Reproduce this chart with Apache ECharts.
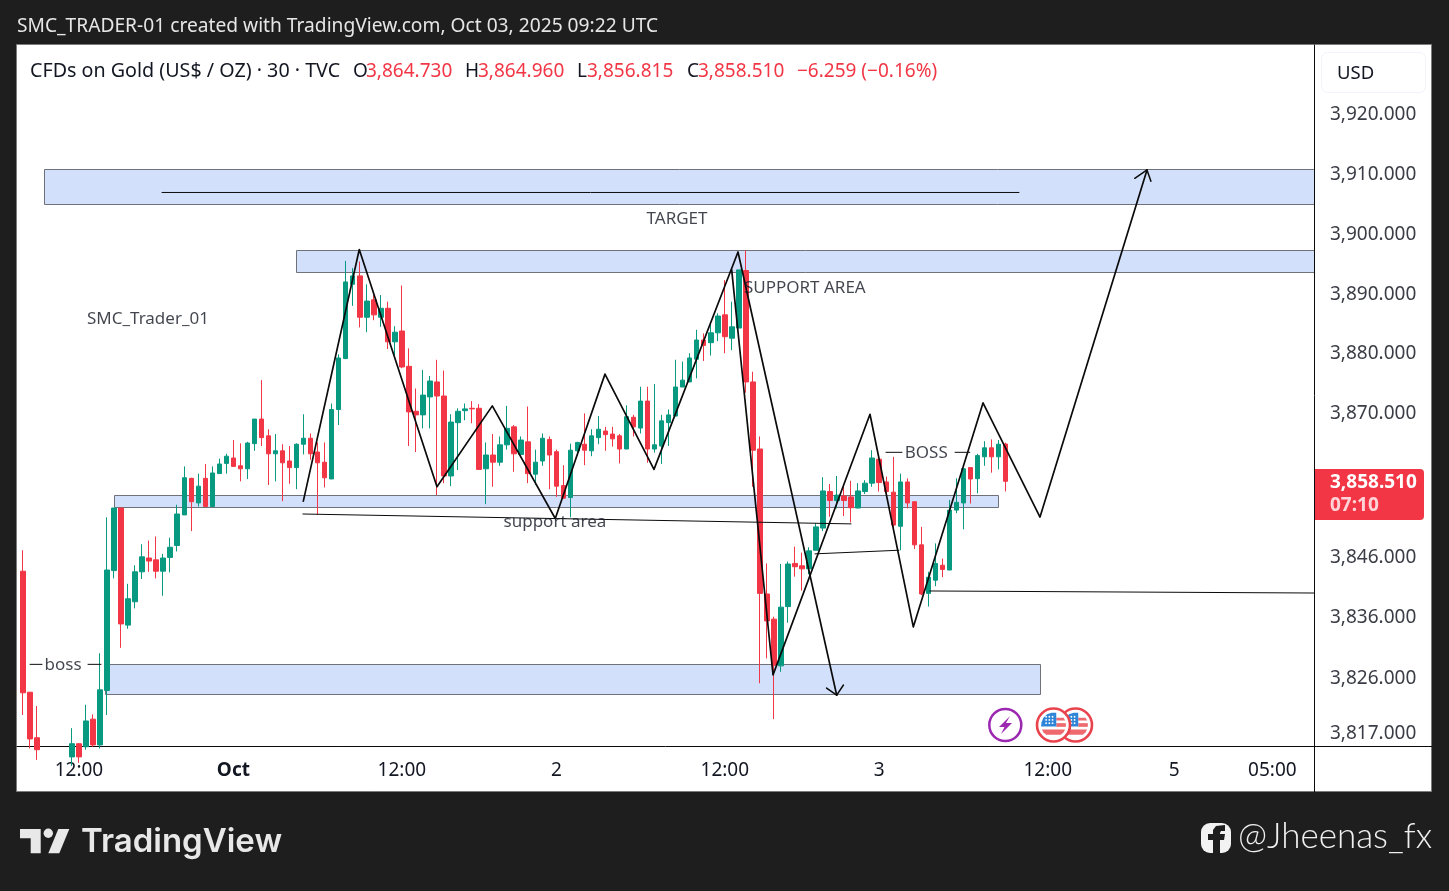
<!DOCTYPE html>
<html><head><meta charset="utf-8">
<style>html,body{margin:0;padding:0;background:#1e1e1e;overflow:hidden}#c{width:1449px;height:891px}</style>
<script src="https://cdn.jsdelivr.net/npm/echarts@6/dist/echarts.min.js"></script>
</head><body><div id="c"></div>
<script>
// 30-minute candles, one per bar index (bars 3-6 sit below the visible price range)
const opens=[3843.5,3823.3,3815.7,3813.0,3811.5,3811.0,3812.0,3812.5,3814.7,3814.2,
3818.8,3814.5,3823.6,3843.6,3854.05,3834.5,3838.4,3843.4,3845.7,3845.4,
3843.5,3845.8,3847.8,3852.9,3859.0,3854.9,3859.0,3854.3,3859.8,3861.5,
3862.4,3861.1,3860.6,3864.8,3868.9,3866.1,3863.1,3863.6,3861.9,3860.8,
3864.7,3865.7,3863.4,3861.7,3858.9,3870.5,3879.0,3891.4,3892.8,3885.9,
3888.8,3885.9,3887.4,3881.8,3883.6,3877.7,3870.2,3869.6,3872.6,3875.1,
3872.75,3859.4,3868.3,3870.3,3870.7,3870.7,3860.6,3862.9,3861.7,3864.6,
3867.6,3863.0,3865.1,3859.7,3861.9,3865.5,3863.45,3857.8,3855.8,3863.6,
3864.7,3863.6,3865.8,3866.9,3866.4,3866.1,3863.9,3869.2,3867.4,3871.9,
3863.9,3864.4,3868.3,3869.4,3874.25,3875.1,3878.9,3882.1,3881.65,3883.3,
3886.3,3882.4,3884.1,3893.7,3875.1,3863.9,3839.7,3835.5,3827.7,3837.6,
3844.8,3844.4,3843.9,3847.0,3850.7,3856.8,3855.3,3856.05,3855.9,3854.05,
3856.8,3858.2,3862.2,3858.4,3856.7,3851.0,3858.4,3855.1,3847.9,3839.8,
3842.0,3844.5,3843.7,3853.7,3854.9,3860.8,3858.95,3862.6,3864.1,3862.6,
3864.73];
const closes=[3823.2,3815.5,3813.7,3811.5,3810.8,3812.0,3813.0,3814.7,3812.5,3818.5,
3814.5,3823.7,3843.7,3854.05,3834.7,3838.9,3843.4,3845.9,3845.2,3843.5,
3845.7,3847.5,3853.05,3859.1,3855.1,3857.7,3854.3,3859.9,3861.4,3862.7,
3861.0,3860.6,3864.9,3868.9,3865.8,3863.1,3863.6,3861.6,3860.8,3864.7,
3865.7,3863.1,3861.6,3859.1,3870.5,3879.1,3891.8,3892.8,3885.9,3888.6,
3886.3,3887.4,3881.8,3883.4,3877.6,3870.1,3869.6,3872.9,3875.25,3872.75,
3859.4,3868.4,3870.2,3870.6,3870.6,3860.5,3862.9,3861.7,3864.6,3867.35,
3863.1,3865.4,3859.8,3861.7,3865.7,3862.9,3857.7,3855.7,3863.7,3865.0,
3863.7,3866.1,3867.2,3866.3,3865.6,3863.9,3869.3,3867.6,3871.9,3863.9,
3864.6,3868.6,3869.6,3874.25,3875.4,3879.1,3882.1,3881.2,3883.3,3886.1,
3882.65,3884.3,3893.8,3875.1,3863.7,3839.8,3835.2,3827.8,3837.5,3844.7,
3844.25,3843.9,3846.9,3850.9,3856.9,3855.3,3856.2,3855.3,3854.1,3856.9,
3858.2,3862.4,3858.3,3856.8,3851.2,3858.4,3854.9,3847.9,3839.7,3842.5,
3844.8,3843.8,3853.7,3855.0,3860.6,3858.9,3862.8,3864.1,3862.6,3864.7,
3858.51];
const lows=[3819.5,3813.9,3812.0,3810.5,3809.5,3809.8,3811.0,3811.0,3811.5,3813.7,
3814.2,3813.9,3819.5,3842.3,3830.7,3833.9,3837.3,3842.2,3843.4,3842.3,
3839.4,3843.3,3846.8,3852.9,3850.2,3854.3,3854.3,3854.3,3859.8,3859.8,
3861.0,3858.5,3858.9,3863.6,3864.4,3857.9,3858.5,3855.2,3858.1,3857.2,
3863.0,3862.1,3852.9,3857.5,3858.9,3867.9,3878.9,3887.8,3884.2,3883.4,
3885.4,3884.3,3880.6,3879.6,3877.4,3864.4,3863.4,3867.35,3867.35,3856.2,
3858.2,3857.7,3860.4,3868.7,3868.2,3860.4,3854.7,3857.6,3861.1,3863.8,
3860.1,3862.6,3858.2,3857.9,3861.1,3857.2,3855.9,3855.6,3852.5,3862.9,
3861.2,3862.7,3864.7,3863.6,3864.3,3861.5,3863.9,3866.0,3866.5,3861.6,
3863.3,3861.4,3864.4,3869.4,3874.25,3875.1,3875.7,3878.6,3879.5,3881.9,
3879.9,3880.4,3884.1,3873.3,3857.6,3824.8,3828.95,3818.8,3826.7,3834.9,
3842.6,3840.25,3843.0,3847.0,3850.2,3852.6,3854.0,3852.7,3851.65,3854.0,
3856.4,3857.6,3856.8,3856.5,3850.1,3847.0,3854.0,3847.2,3839.5,3837.6,
3841.0,3842.5,3843.7,3853.2,3850.5,3854.8,3856.5,3861.1,3859.95,3860.5,
3856.815];
const highs=[3847.0,3823.3,3821.0,3813.5,3812.5,3813.0,3814.0,3817.3,3814.8,3821.2,
3819.6,3829.8,3852.5,3854.05,3854.05,3841.4,3844.5,3848.0,3848.6,3849.3,
3846.4,3849.1,3854.6,3861.0,3859.1,3859.8,3861.4,3861.0,3862.3,3863.1,
3865.4,3864.85,3865.1,3868.9,3875.4,3867.2,3866.4,3864.7,3864.4,3864.85,
3869.7,3866.5,3865.0,3865.0,3871.5,3879.7,3895.3,3894.1,3895.2,3891.4,
3889.6,3889.6,3888.5,3884.4,3891.2,3880.7,3874.0,3877.1,3876.1,3878.8,
3877.0,3869.7,3870.7,3871.5,3871.9,3871.4,3865.0,3866.4,3866.0,3871.1,
3867.9,3866.0,3871.0,3863.8,3866.5,3866.0,3863.8,3861.2,3864.8,3865.1,
3869.85,3867.2,3869.4,3867.6,3867.6,3866.4,3871.2,3869.6,3874.3,3874.3,
3874.75,3869.6,3870.5,3878.8,3878.5,3879.9,3883.8,3883.2,3884.9,3886.55,
3892.1,3888.5,3893.8,3897.1,3876.8,3866.0,3844.8,3835.9,3844.7,3845.1,
3847.6,3846.6,3847.5,3851.5,3859.2,3858.05,3859.4,3857.6,3858.6,3858.2,
3858.7,3863.7,3862.3,3859.3,3862.6,3859.8,3859.0,3855.2,3850.9,3843.4,
3848.15,3845.6,3855.4,3859.0,3860.7,3860.8,3863.1,3865.2,3865.5,3865.4,
3864.96];

// axis ticks
const timeTickBars=[8,30,54,76,100,122,146,164,178];
const timeTickLabels=['12:00','Oct','12:00','2','12:00','3','12:00','5','05:00'];
const priceTicks=[3817,3826,3836,3846,3870,3880,3890,3900,3910,3920];

// drawn zones: [bar from, bar to, price top, price bottom]
const zoneTarget=[3.02,190,3910.65,3904.8];
const zoneResistance=[38.9,190,3897.1,3893.45];
const zoneSupport=[12.99,138.9,3856.2,3854.2];
const zoneBoss=[11.7,144.9,3828.0,3823.0];

// hand-drawn paths: [bar, price]
const pathLeft=[[39.96,3855.2],[47.93,3897.2],[59.0,3857.6],[66.88,3871.1],[75.85,3852.3],[82.93,3876.4],[89.91,3860.5],[101.88,3896.8],[115.94,3822.8]];
const arrowDown=[[114.5,3824.0],[115.94,3822.8],[116.9,3824.5]];
const pathRight=[[100.98,3893.8],[106.87,3826.2],[120.68,3869.7],[126.85,3834.2],[136.78,3871.6],[144.9,3852.55],[160.14,3910.5]];
const arrowUp=[[158.4,3909.1],[160.14,3910.5],[160.7,3908.6]];
const thinLines=[
 [[19.83,3906.73],[141.9,3906.73]],
 [[39.9,3853.05],[117.98,3851.4]],
 [[112.85,3846.4],[124.8,3847.0]],
 [[129.2,3840.2],[183.9,3839.86]]
];
const noteDashes=[
 [[1.03,3827.95],[2.74,3827.95]],[[9.29,3827.95],[11.14,3827.95]],
 [[122.96,3863.35],[125.24,3863.35]],[[132.8,3863.35],[134.9,3863.35]]
];
// notes: [bar, price, text]
const notes=[[93.19,3902.2,'TARGET'],[111.4,3890.75,'SUPPORT AREA'],[17.83,3885.5,'SMC_Trader_01'],
 [75.8,3851.7,'support area'],[128.7,3863.25,'BOSS'],[5.73,3827.85,'boss']];

const GREEN='#089981',RED='#f23645',UI='"Noto Sans","Open Sans",sans-serif';
const candles=opens.map((o,i)=>[i,o,closes[i],lows[i],highs[i]]);
const fmt=v=>v.toLocaleString('en-US',{minimumFractionDigits:3,maximumFractionDigits:3});

const lineSeries=(d,w,z)=>({type:'line',data:d,showSymbol:false,symbol:'none',silent:true,animation:false,z:z||6,clip:true,
 lineStyle:{color:'#0b0b0b',width:w,cap:'round',join:'round'}});

const txt=(x,y,t,fill,size,extra)=>Object.assign({type:'text',x,y,z:50,silent:true,
 style:Object.assign({text:t,fill,font:(size||18)+'px '+UI,textVerticalAlign:'middle',textAlign:'left'},extra||{})});
const poly=(pts,fill,z)=>({type:'polygon',z:z,silent:true,shape:{points:pts},style:{fill}});
const flagStars=[];
for(const sy of [-9,-5.5,-2])for(const sx of [-8,-4.5,-1])flagStars.push([sx,sy]);
const flag=(cx,cy,z)=>({type:'group',x:cx,y:cy,silent:true,children:[
 {type:'circle',z:z,shape:{cx:0,cy:0,r:16.5},style:{fill:'#fff',stroke:'#e9434d',lineWidth:2.6}},
 {type:'group',scaleX:.92,scaleY:.92,silent:true,children:[
  poly([[3,-12],[5,-12],[11,-8],[12.6,-5],[3,-5]],'#fff',z+1),
  poly([[3,-8],[11,-8],[12.6,-5],[3,-5]],'#ee6a6f',z+1),
  poly([[3,-2],[13.4,-2],[13.4,2],[3,2]],'#ee6a6f',z+1),
  poly([[-12.6,5],[12.6,5],[11,8],[8,10.5],[-8,10.5],[-11,8]],'#ee6a6f',z+1),
  poly([[3,-13.2],[-2,-13.4],[-7,-11.6],[-11,-8],[-13,-3],[-13.5,1.5],[3,1.5]],'#2f86d8',z+2),
  ...flagStars.map(s=>({type:'circle',z:z+3,silent:true,shape:{cx:s[0],cy:s[1],r:1},style:{fill:'#fff'}}))
 ]}
]});

const chart=echarts.init(document.getElementById('c'),null,{renderer:'canvas'});
chart.setOption({
 animation:false,
 backgroundColor:'#1e1e1e',
 grid:{left:17,top:45,width:1297,height:701,containLabel:false},
 xAxis:{type:'value',min:-0.826,max:183.93,
  axisLine:{show:true,onZero:false,lineStyle:{color:'#0b0b0b',width:1}},axisTick:{show:false},splitLine:{show:false},
  axisLabel:{customValues:timeTickBars,margin:15,color:'#131722',fontSize:19,fontFamily:UI,hideOverlap:false,
   showMinLabel:true,showMaxLabel:true,
   formatter:v=>{const t=timeTickLabels[timeTickBars.indexOf(v)];return t==='Oct'?'{b|Oct}':t;},
   rich:{b:{fontWeight:'bold',fontSize:19,fontFamily:UI,color:'#131722'}}}},
 yAxis:{type:'value',position:'right',min:3814.32,max:3931.35,scale:true,
  axisLine:{show:true,onZero:false,lineStyle:{color:'#0b0b0b',width:1}},axisTick:{show:false},splitLine:{show:false},
  axisLabel:{customValues:priceTicks,margin:16,color:'#3a3d45',fontSize:19,fontFamily:UI,
   formatter:v=>(v===3817?'{low|':v===3826?'{mid|':'{up|')+fmt(v)+'}',
   rich:{up:{fontSize:19,fontFamily:UI,color:'#3a3d45',padding:[3,0,0,0]},
         mid:{fontSize:19,fontFamily:UI,color:'#3a3d45',padding:[5,0,0,0]},
         low:{fontSize:19,fontFamily:UI,color:'#3a3d45',padding:[7,0,0,0]}}}},
 series:[
  {type:'custom',z:1,clip:true,silent:true,animation:false,data:[zoneTarget,zoneResistance,zoneSupport,zoneBoss],
   encode:{x:[0,1],y:[2,3]},
   renderItem:(p,api)=>{
    const a=api.coord([api.value(0),api.value(2)]),b=api.coord([api.value(1),api.value(3)]);
    return {type:'rect',shape:{x:Math.round(a[0])+.5,y:Math.round(a[1])+.5,width:Math.round(b[0]-a[0]),height:Math.round(b[1]-a[1])},
     style:{fill:'#d2e0fb',stroke:'#6f7278',lineWidth:1}};
   }},
  {type:'candlestick',z:3,silent:true,animation:false,clip:true,data:candles,barWidth:5,
   itemStyle:{color:GREEN,color0:RED,borderColor:GREEN,borderColor0:RED,borderWidth:1}},
  ...thinLines.map(d=>lineSeries(d,1,5)),
  ...noteDashes.map(d=>lineSeries(d,1,5)),
  lineSeries(pathLeft,1.7),lineSeries(pathRight,1.7),lineSeries(arrowDown,1.5),lineSeries(arrowUp,1.5),
  {type:'scatter',z:7,silent:true,animation:false,symbolSize:1,itemStyle:{color:'rgba(0,0,0,0)'},data:notes,
   label:{show:true,position:'inside',formatter:p=>p.data[2],color:'#131722',fontSize:17,fontFamily:UI}}
 ],
 graphic:{elements:[
  {type:'rect',z:-10,silent:true,shape:{x:16.5,y:44.5,width:1415,height:747},style:{fill:'#fff',stroke:'#7c7c7c',lineWidth:1}},
  {type:'line',z:-5,silent:true,shape:{x1:1314.5,y1:746,x2:1314.5,y2:792},style:{stroke:'#0b0b0b',lineWidth:1}},
  {type:'line',z:-5,silent:true,shape:{x1:1314,y1:746.5,x2:1432,y2:746.5},style:{stroke:'#0b0b0b',lineWidth:1}},
  txt(17,26.5,'SMC_TRADER-01 created with TradingView.com, Oct 03, 2025 09:22 UTC','#e6e6e6',19.2),
  txt(30,71.5,'CFDs on Gold (US$ / OZ) · 30 · TVC','#131722',19.7),
  txt(353,71.5,'O','#131722',19),txt(366,71.5,'3,864.730',RED,19),
  txt(465,71.5,'H','#131722',19),txt(478,71.5,'3,864.960',RED,19),
  txt(577,71.5,'L','#131722',19),txt(587,71.5,'3,856.815',RED,19),
  txt(687,71.5,'C','#131722',19),txt(698,71.5,'3,858.510',RED,19),
  txt(797,71.5,'−6.259 (−0.16%)',RED,19),
  {type:'rect',z:40,silent:true,shape:{x:1321.5,y:52.5,width:104,height:40,r:6},style:{fill:'#fff',stroke:'#f0f3fa',lineWidth:1}},
  txt(1337,73.5,'USD','#131722',18.5),
  {type:'rect',z:45,silent:true,shape:{x:1315,y:469,width:109,height:51,r:[0,4,4,0]},style:{fill:RED}},
  txt(1330,482.5,'3,858.510','#fff',19,{font:'bold 19px '+UI}),
  txt(1330,506,'07:10','#ffd3d7',19,{font:'bold 19px '+UI}),
  {type:'circle',z:30,silent:true,shape:{cx:1005.3,cy:725,r:16},style:{fill:'#fff',stroke:'#9c27b0',lineWidth:2.5}},
  poly([[1010,716],[999,727],[1004.5,727],[1001,734],[1012,723],[1006,723]],'#9c27b0',31),
  flag(1075.5,725,30),flag(1053.5,725,35),
  poly([[20,829],[40.7,829],[40.7,853.3],[30.7,853.3],[30.7,838.3],[20,838.3]],'#e8e8e8',50),
  poly([[58.3,829],[69.3,829],[59.3,853.3],[48.3,853.3]],'#e8e8e8',50),
  {type:'circle',z:50,silent:true,shape:{cx:48.3,cy:833.3,r:4.7},style:{fill:'#e8e8e8'}},
  txt(81,842.5,'TradingView','#e8e8e8',33,{font:'600 33px Inter,"Noto Sans",sans-serif'}),
  {type:'rect',z:50,silent:true,shape:{x:1201,y:823,width:30,height:30,r:9},style:{fill:'#f2f2f2'}},
  poly([[1213,857],[1213,840],[1208,840],[1208,834],[1213,834],[1213,830],[1216,826],[1225,825],[1225,831],[1221,831],[1220,833],[1220,834],[1225,834],[1224,840],[1220,840],[1220,853]],'#1e1e1e',51),
  txt(1238,837,'@Jheenas_fx','#f0f0f0',35,{font:'300 35px Lato,"Noto Sans",sans-serif'})
 ]}
});
</script></body></html>
